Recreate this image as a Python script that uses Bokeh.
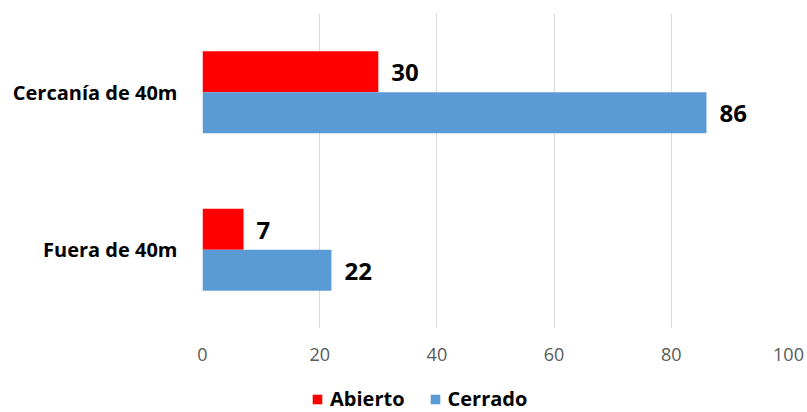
from bokeh.plotting import figure
from bokeh.layouts import column
from bokeh.models import ColumnDataSource, FactorRange, Legend, LegendItem, FixedTicker
from bokeh.transform import dodge
from bokeh.core.properties import value
from bokeh.embed import file_html
from bokeh.resources import INLINE

# Data
categories = ["Cercanía de 40m", "Fuera de 40m"]
abierto = [30, 7]
cerrado = [86, 22]
x_ticks = [0, 20, 40, 60, 80, 100]
series_names = ["Abierto", "Cerrado"]

RED = "#ff0000"
BLUE = "#5b9bd5"
FONT = "Open Sans"

src = ColumnDataSource(dict(
    cat=categories,
    abierto=abierto,
    cerrado=cerrado,
    abierto_txt=[str(v) for v in abierto],
    cerrado_txt=[str(v) for v in cerrado],
))

# Main bar chart
p = figure(
    width=807, height=370,
    y_range=FactorRange(factors=list(reversed(categories))),
    x_range=(0, 100),
    output_backend="svg", toolbar_location=None,
    min_border_left=202, min_border_right=19,
    min_border_top=13, min_border_bottom=42,
)
p.outline_line_color = None
p.background_fill_color = "white"
p.border_fill_color = "white"

bar_h = 0.26
r_ab = p.hbar(y=dodge("cat", bar_h / 2, range=p.y_range), right="abierto", left=0,
              height=bar_h, source=src, fill_color=RED, line_color=None)
r_ce = p.hbar(y=dodge("cat", -bar_h / 2, range=p.y_range), right="cerrado", left=0,
              height=bar_h, source=src, fill_color=BLUE, line_color=None)

# Value labels at the end of each bar
for col, off in (("abierto", bar_h / 2), ("cerrado", -bar_h / 2)):
    p.text(x=col, y=dodge("cat", off, range=p.y_range), text=col + "_txt", source=src,
           x_offset=13, y_offset=1, text_baseline="middle", text_align="left",
           text_font=value(FONT), text_font_style="bold", text_font_size="24px",
           text_color="black")

# Axes
p.xaxis.ticker = FixedTicker(ticks=x_ticks)
p.xaxis.axis_line_color = None
p.xaxis.major_tick_line_color = None
p.xaxis.minor_tick_line_color = None
p.xaxis.major_label_text_font = FONT
p.xaxis.major_label_text_font_size = "18px"
p.xaxis.major_label_text_color = "#595959"
p.xaxis.major_label_standoff = 13

p.yaxis.axis_line_color = None
p.yaxis.major_tick_line_color = None
p.yaxis.major_label_text_font = FONT
p.yaxis.major_label_text_font_style = "bold"
p.yaxis.major_label_text_font_size = "20px"
p.yaxis.major_label_text_color = "black"
p.yaxis.major_label_standoff = 19

p.xgrid.grid_line_color = "#d9d9d9"
p.xgrid.grid_line_width = 1
p.ygrid.grid_line_color = None

# Legend strip underneath the chart (its frame lines up with the chart's frame)
lg = figure(
    width=807, height=42, x_range=(0, 100),
    y_range=FactorRange(factors=list(reversed(categories))),
    output_backend="svg", toolbar_location=None,
    min_border=0, min_border_left=0, min_border_right=0,
    min_border_top=0, min_border_bottom=0,
)
lg.axis.visible = False
lg.grid.visible = False
lg.outline_line_color = None
lg.border_fill_color = "white"
# zero-height bars: they only supply the legend keys
key_ab = lg.hbar(y="cat", right="abierto", left=0, height=0, source=src,
                 fill_color=RED, line_color=None)
key_ce = lg.hbar(y="cat", right="cerrado", left=0, height=0, source=src,
                 fill_color=BLUE, line_color=None)

legend = Legend(
    items=[LegendItem(label=series_names[0], renderers=[key_ab], index=0),
           LegendItem(label=series_names[1], renderers=[key_ce], index=0)],
    orientation="horizontal", location=(109, 0),
    label_text_font=FONT, label_text_font_style="bold", label_text_font_size="20px",
    label_text_color="black", glyph_width=12, glyph_height=12,
    label_standoff=7, spacing=24, border_line_color=None,
    background_fill_alpha=0, margin=0, padding=0,
)
lg.add_layout(legend)

layout = column(p, lg, spacing=0)
open("out.html", "w").write(file_html(layout, INLINE))
